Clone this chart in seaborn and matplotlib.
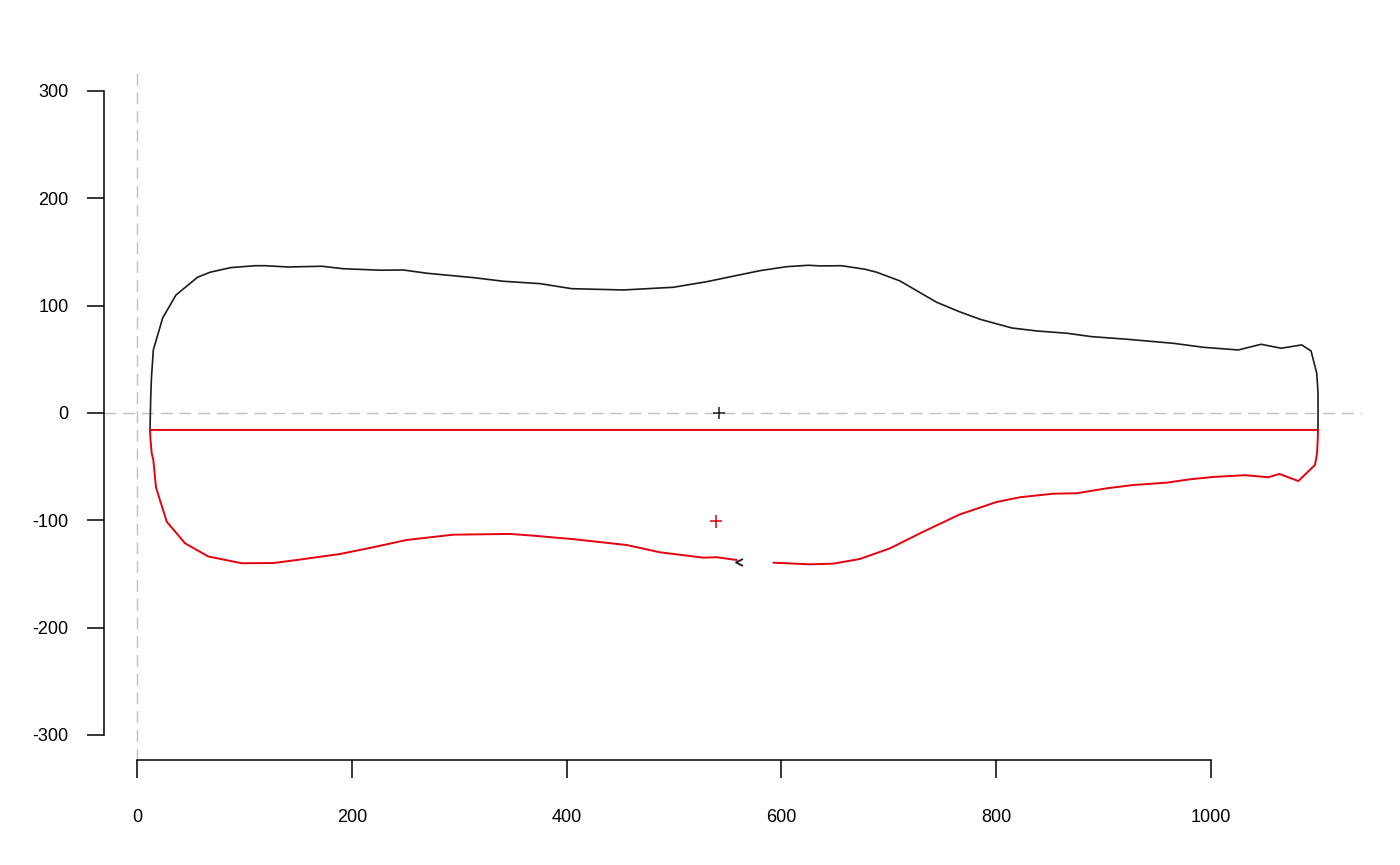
import matplotlib
matplotlib.use("Agg")
import matplotlib.pyplot as plt
from matplotlib.path import Path
import pandas as pd
import seaborn as sns

# outline halves
upper_x = [12.1, 12.8, 13.5, 15.2, 23.9, 36.3, 56.3, 68.0, 87.2, 109.9, 119.2, 140.9,
           172.0, 192.1, 226.3, 248.0, 269.7, 313.1, 341.1, 375.2, 404.7, 452.8, 499.3,
           530.4, 580.1, 604.9, 625.0, 635.9, 656.1, 677.8, 688.7, 710.4, 729.1, 744.6,
           766.3, 784.9, 814.4, 837.7, 865.6, 888.9, 921.5, 964.9, 992.8, 1025.4, 1046.6,
           1065.2, 1084.4, 1093.1, 1098.4, 1099.6, 1099.6, 1099.6]
upper_y = [-15.8, 14.9, 33.5, 58.7, 88.5, 109.9, 126.4, 131.1, 135.4, 137.2, 137.2, 136.0,
           136.7, 134.4, 133.0, 133.2, 130.2, 126.1, 122.7, 120.5, 115.8, 114.6, 117.1,
           122.3, 132.6, 136.3, 137.6, 137.0, 137.2, 133.9, 131.1, 123.0, 112.1, 103.1,
           94.1, 87.3, 79.2, 76.4, 74.3, 71.1, 68.7, 64.9, 61.2, 58.7, 64.0,
           60.3, 63.4, 57.8, 37.0, 18.6, 2.8, -15.8]

lower_x = [592.5, 626.6, 648.3, 673.2, 701.1, 732.1, 766.3, 769.4, 800.5, 822.2, 853.2,
           874.9, 902.9, 927.7, 958.8, 980.4, 1002.1, 1031.7, 1053.4, 1063.6, 1081.3,
           1096.8, 1098.7, 1099.3, 1099.6, 12.1, 12.6, 13.7, 15.2, 17.7, 27.7, 44.7, 66.4,
           97.5, 126.9, 148.7, 189.0, 220.0, 251.1, 294.5, 347.3, 369.0, 393.9, 404.7,
           455.9, 486.9, 527.3, 539.8, 558.4]
lower_y = [-139.5, -141.0, -140.4, -136.0, -126.1, -110.6, -94.4, -93.4, -82.9, -78.5, -75.2,
           -74.8, -70.2, -67.1, -64.9, -61.8, -59.6, -58.0, -59.9, -56.8, -63.4,
           -48.4, -37.5, -25.2, -15.8, -15.8, -25.2, -37.5, -43.8, -69.4, -101.3, -121.4, -133.7,
           -140.0, -139.8, -137.0, -131.4, -125.1, -118.3, -113.4, -112.7, -114.3, -116.5, -117.4,
           -123.0, -129.8, -134.8, -134.4, -137.0]

centroid_x = [542, 539]
centroid_y = [0, -101]
arrow_x = [560.9]
arrow_y = [-138.5]

xticks = [0, 200, 400, 600, 800, 1000]
yticks = [-300, -200, -100, 0, 100, 200, 300]

BLACK = "#1c1c1c"
RED = "#e3000f"
GREY = "#c0c0c0"

sns.set_style("white")
plt.rcParams["font.family"] = ["Liberation Sans", "DejaVu Sans"]

fig = plt.figure(figsize=(14, 8.65), dpi=100)
ax = fig.add_axes([0.0743, 0.1214, 0.8986, 0.8])

ax.axhline(0, color=GREY, lw=1.0, dashes=(8.5, 5), zorder=1)
ax.axvline(0, color=GREY, lw=1.0, dashes=(8.5, 5), zorder=1)

upper = pd.DataFrame({"x": upper_x, "y": upper_y})
lower = pd.DataFrame({"x": lower_x, "y": lower_y})
sns.lineplot(data=upper, x="x", y="y", sort=False, estimator=None,
             color=BLACK, lw=1.2, ax=ax, zorder=2)
sns.lineplot(data=lower, x="x", y="y", sort=False, estimator=None,
             color=RED, lw=1.4, ax=ax, zorder=3)

sns.scatterplot(x=centroid_x, y=centroid_y, hue=["a", "b"], palette=[BLACK, RED],
                marker="+", s=80, linewidth=1.1, legend=False, ax=ax, zorder=4)

# start-point arrow drawn as an open "<"
caret = Path([(1, 1), (-1, 0), (1, -1)], [Path.MOVETO, Path.LINETO, Path.LINETO])
ax.plot(arrow_x, arrow_y, linestyle="none", marker=caret, markersize=5,
        markerfacecolor="none", markeredgecolor=BLACK, markeredgewidth=1.3, zorder=5)

ax.set_xlim(-30.7, 1140.6)
ax.set_ylim(-323.3, 321.4)
ax.set_xlabel("")
ax.set_ylabel("")

for side in ["top", "right"]:
    ax.spines[side].set_visible(False)
ax.spines["left"].set_bounds(-300, 300)
ax.spines["bottom"].set_bounds(0, 1000)
for side in ["left", "bottom"]:
    ax.spines[side].set_color("black")
    ax.spines[side].set_linewidth(1.1)

ax.set_xticks(xticks)
ax.set_yticks(yticks)
ax.set_xticklabels([str(v) for v in xticks])
ax.set_yticklabels([str(v) for v in yticks])
ax.tick_params(axis="x", direction="out", length=13, width=1.1, pad=22,
               labelsize=13, colors="black", bottom=True)
ax.tick_params(axis="y", direction="out", length=12.5, width=1.1, pad=13,
               labelsize=13, colors="black", left=True)

fig.savefig("out.png", dpi=100, facecolor="white")
